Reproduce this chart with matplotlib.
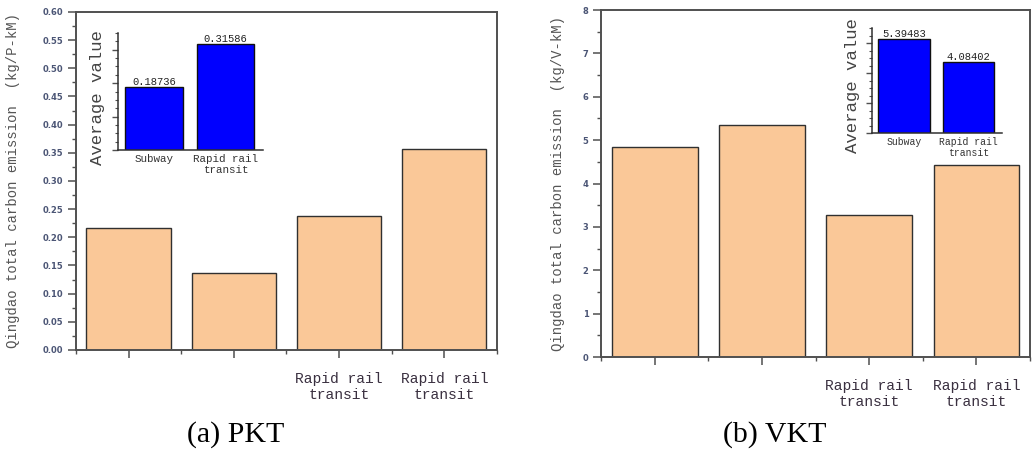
import matplotlib
matplotlib.use("Agg")
import matplotlib.pyplot as plt
from matplotlib.ticker import MultipleLocator

# per-mode carbon emission, Qingdao
pkt_vals = [0.216, 0.137, 0.238, 0.357]
vkt_vals = [4.85, 5.36, 3.28, 4.43]
bar_labels = ["", "", "Rapid rail\ntransit", "Rapid rail\ntransit"]

# averages shown in the small panels
avg_modes = ["Subway", "Rapid rail\ntransit"]
pkt_avg = [0.18736, 0.31586]
vkt_avg = [5.39483, 4.08402]

MONO = "Liberation Mono"
SPINE = "#505050"
PEACH = "#FAC898"


def main_panel(ax, vals, ymax, major, minor, ylab, fmt):
    x = range(1, len(vals) + 1)
    ax.bar(x, vals, width=0.8, color=PEACH, edgecolor="#303030", linewidth=1.0)
    ax.set_xlim(0.5, 4.5)
    ax.set_ylim(0, ymax)
    ax.set_xticks(list(x))
    ax.set_xticklabels(bar_labels, fontfamily=MONO, fontsize=10.5, color="#3a3040")
    ax.set_xticks([0.5, 1.5, 2.5, 3.5, 4.5], minor=True)
    ax.yaxis.set_major_locator(MultipleLocator(major))
    ax.yaxis.set_minor_locator(MultipleLocator(minor))
    ax.yaxis.set_major_formatter(fmt)
    for lab in ax.get_yticklabels():
        lab.set_fontsize(6)
        lab.set_fontweight("bold")
        lab.set_color("#4b5575")
    ax.tick_params(axis="both", which="major", direction="out", length=6, width=1.1, color=SPINE)
    ax.tick_params(axis="both", which="minor", direction="out", length=3, width=1.0, color=SPINE)
    ax.tick_params(axis="x", which="major", pad=10)
    ax.tick_params(axis="y", which="major", pad=3)
    for s in ax.spines.values():
        s.set_color(SPINE)
        s.set_linewidth(1.4)
    ax.set_ylabel(ylab, fontfamily=MONO, fontsize=10, color="#555555")


def avg_panel(ax, vals, ymax, tick_size, val_size):
    x = [1, 2]
    bars = ax.bar(x, vals, width=0.8, color="#0000FF", edgecolor="#101010", linewidth=1.0)
    ax.set_xlim(0.5, 2.52)
    ax.set_ylim(0, ymax)
    ax.set_xticks(x)
    ax.set_xticklabels(avg_modes, fontfamily=MONO, fontsize=tick_size, color="#333333",
                       linespacing=1.1)
    ax.tick_params(axis="x", length=0, pad=3)
    ax.yaxis.set_major_locator(MultipleLocator(ymax / 3.5))
    ax.yaxis.set_minor_locator(MultipleLocator(ymax / 14))
    ax.tick_params(axis="y", which="major", direction="out", length=4, width=1.0,
                   color=SPINE, labelleft=False)
    ax.tick_params(axis="y", which="minor", direction="out", length=2, width=0.8, color=SPINE)
    ax.spines["top"].set_visible(False)
    ax.spines["right"].set_visible(False)
    for s in ("left", "bottom"):
        ax.spines[s].set_color("#303030")
        ax.spines[s].set_linewidth(1.1)
    for b, v in zip(bars, vals):
        ax.text(b.get_x() + b.get_width() / 2, v, "{:.5f}".format(v), ha="center", va="bottom",
                fontfamily=MONO, fontsize=val_size, color="#222222")
    ax.set_ylabel("Average value", fontfamily=MONO, fontsize=12.5, color="#444444", labelpad=2)


fig = plt.figure(figsize=(10.32, 4.59), dpi=100)

ax1 = fig.add_axes([0.0736, 0.2375, 0.408, 0.7364])
main_panel(ax1, pkt_vals, 0.60, 0.05, 0.025,
           "Qingdao total carbon emission  (kg/P-kM)", "{x:.2f}")
ax1.yaxis.set_label_coords(-0.133, 0.5)

ax2 = fig.add_axes([0.5824, 0.2222, 0.4157, 0.756])
main_panel(ax2, vkt_vals, 8, 1, 0.5,
           "Qingdao total carbon emission  (kg/V-kM)", "{x:.0f}")
ax2.yaxis.set_label_coords(-0.084, 0.5)

in1 = fig.add_axes([0.1143, 0.6732, 0.1405, 0.2549])
avg_panel(in1, pkt_avg, 0.35, 7.8, 7.6)
in1.yaxis.set_label_coords(-0.09, 0.45)

in2 = fig.add_axes([0.845, 0.7102, 0.126, 0.2288])
avg_panel(in2, vkt_avg, 6.0, 7.0, 7.6)
in2.yaxis.set_label_coords(-0.09, 0.45)

fig.text(236 / 1032, 1 - 435 / 459, "(a) PKT", ha="center", va="center",
         fontfamily="Liberation Serif", fontsize=21.5)
fig.text(775 / 1032, 1 - 435 / 459, "(b) VKT", ha="center", va="center",
         fontfamily="Liberation Serif", fontsize=21.5)

fig.savefig("out.png", dpi=100)
